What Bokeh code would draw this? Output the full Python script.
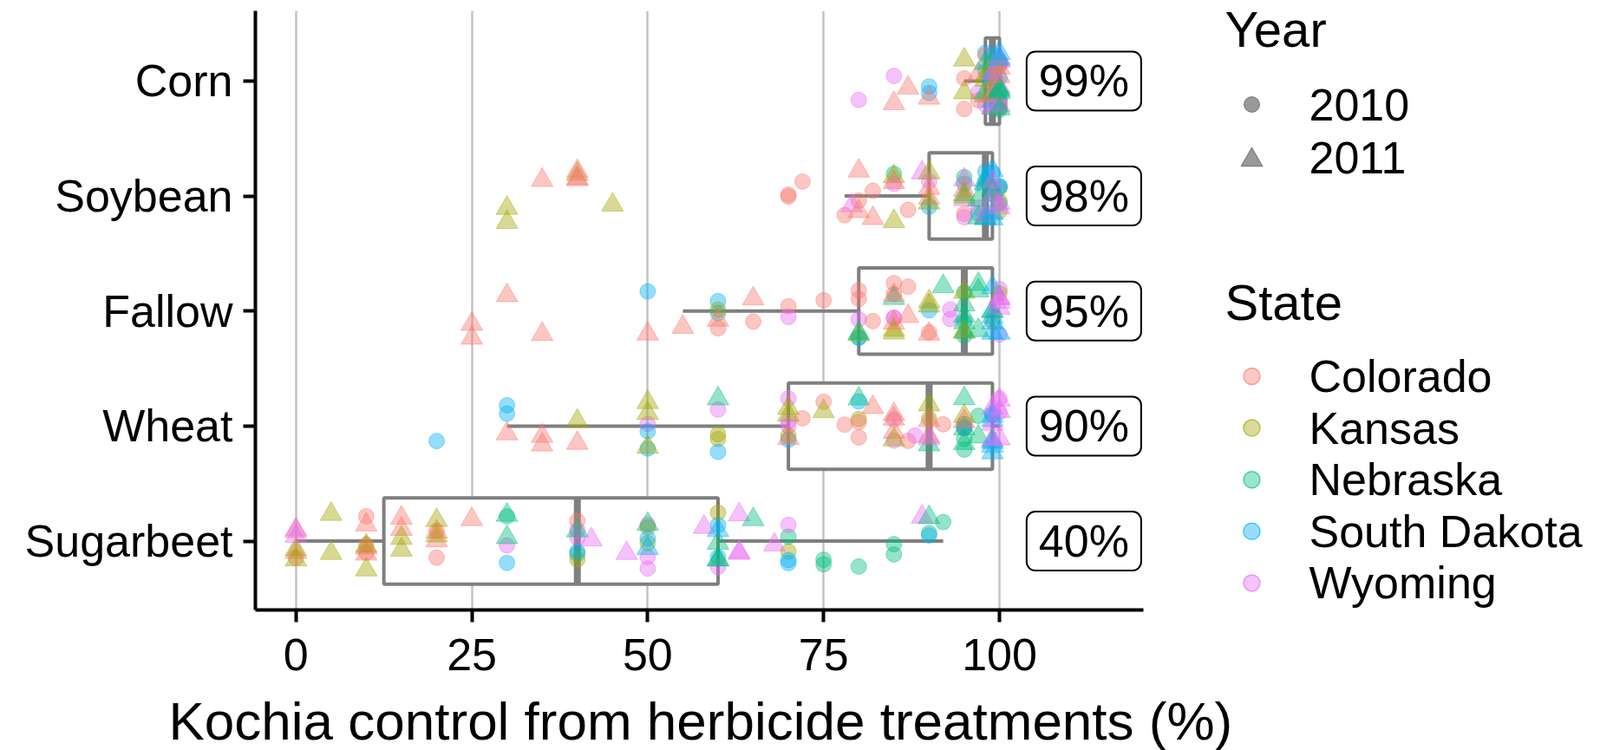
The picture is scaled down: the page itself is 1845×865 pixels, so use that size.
from bokeh.plotting import figure
from bokeh.models import Range1d, ColumnDataSource, FixedTicker, Label, Title
from bokeh.transform import jitter, dodge
from bokeh.embed import file_html
from bokeh.resources import INLINE
from bokeh.core.properties import value

# ---------------- data ----------------
crops = ["Corn", "Soybean", "Fallow", "Wheat", "Sugarbeet"]
states = ["Colorado", "Kansas", "Nebraska", "South Dakota", "Wyoming"]
state_codes = ["CO", "KS", "NE", "SD", "WY"]
state_colors = ["#F8766D", "#A3A500", "#00BF7D", "#00B0F6", "#E76BF3"]
years = ["2010", "2011"]

# boxplot statistics per crop
box_low = [95, 78, 55, 30, 0]
box_q1 = [98, 90, 80, 70, 12.5]
box_median = [99, 98, 95, 90, 40]
box_q3 = [100, 99, 99, 99, 60]
box_high = [100, 100, 100, 100, 92]
median_labels = ["99%", "98%", "95%", "90%", "40%"]

x_ticks = [0, 25, 50, 75, 100]

# observations: (control %, state, year, number of observations)
corn_obs = [
    (80, "WY", 2010, 1), (85, "WY", 2010, 1), (85, "CO", 2011, 1), (87, "CO", 2011, 1),
    (90, "SD", 2010, 2), (90, "CO", 2011, 1), (95, "KS", 2011, 2), (95, "CO", 2010, 2),
    (97, "CO", 2010, 1), (97, "WY", 2010, 1), (97, "CO", 2011, 1),
    (98, "KS", 2011, 3), (98, "NE", 2011, 2), (98, "SD", 2010, 2), (98, "WY", 2010, 1), (98, "CO", 2010, 1),
    (99, "NE", 2011, 4), (99, "SD", 2011, 3), (99, "KS", 2011, 2), (99, "CO", 2011, 2), (99, "WY", 2011, 2),
    (99, "SD", 2010, 2),
    (100, "WY", 2011, 4), (100, "CO", 2010, 3), (100, "NE", 2011, 4), (100, "SD", 2010, 3), (100, "WY", 2010, 3),
    (100, "KS", 2010, 2), (100, "CO", 2011, 2), (100, "SD", 2011, 2), (100, "NE", 2010, 2),
]
soybean_obs = [
    (30, "KS", 2011, 2), (35, "CO", 2011, 1), (40, "KS", 2011, 1), (40, "CO", 2011, 3), (45, "KS", 2011, 1),
    (70, "CO", 2010, 2), (72, "CO", 2010, 1), (78, "CO", 2010, 1), (79, "WY", 2011, 1),
    (80, "CO", 2010, 1), (80, "CO", 2011, 2), (82, "CO", 2010, 1), (82, "CO", 2011, 1),
    (85, "KS", 2011, 2), (85, "NE", 2010, 1), (85, "WY", 2010, 1), (85, "CO", 2011, 1), (87, "CO", 2010, 1),
    (89, "WY", 2011, 1),
    (90, "CO", 2011, 2), (90, "SD", 2010, 1), (90, "KS", 2011, 2), (90, "WY", 2010, 1),
    (95, "NE", 2010, 2), (95, "WY", 2011, 2), (95, "NE", 2011, 1), (95, "CO", 2010, 1), (95, "WY", 2010, 1),
    (95, "CO", 2011, 1), (95, "KS", 2011, 1),
    (97, "NE", 2011, 2), (97, "SD", 2010, 1), (97, "WY", 2010, 1),
    (98, "SD", 2011, 3), (98, "NE", 2011, 2), (98, "SD", 2010, 2), (98, "WY", 2011, 1),
    (99, "SD", 2010, 3), (99, "SD", 2011, 3), (99, "NE", 2011, 2), (99, "WY", 2011, 2),
    (100, "KS", 2010, 3), (100, "SD", 2010, 2), (100, "WY", 2011, 2), (100, "NE", 2010, 1),
]
fallow_obs = [
    (25, "CO", 2011, 2), (30, "CO", 2011, 1), (35, "CO", 2011, 1), (50, "SD", 2010, 1), (50, "CO", 2011, 1),
    (55, "CO", 2011, 1),
    (60, "SD", 2010, 2), (60, "CO", 2011, 1), (60, "CO", 2010, 1), (60, "KS", 2010, 1),
    (65, "CO", 2010, 1), (65, "CO", 2011, 1), (70, "CO", 2010, 1), (70, "WY", 2010, 1), (75, "CO", 2010, 1),
    (80, "WY", 2010, 1), (80, "KS", 2011, 1), (80, "NE", 2011, 1), (80, "CO", 2010, 2), (80, "NE", 2010, 1),
    (80, "SD", 2010, 1), (82, "CO", 2010, 1),
    (85, "KS", 2011, 2), (85, "NE", 2011, 1), (85, "CO", 2011, 2), (85, "WY", 2010, 2), (85, "CO", 2010, 2),
    (87, "CO", 2010, 1), (87, "CO", 2011, 1),
    (90, "KS", 2011, 2), (90, "SD", 2010, 1), (90, "CO", 2011, 1), (90, "CO", 2010, 1),
    (92, "NE", 2011, 1), (93, "WY", 2010, 2),
    (95, "NE", 2011, 4), (95, "NE", 2010, 2), (95, "KS", 2011, 2), (95, "SD", 2010, 1),
    (97, "NE", 2011, 3),
    (99, "SD", 2011, 5), (99, "NE", 2011, 1), (99, "KS", 2010, 1),
    (100, "WY", 2011, 4), (100, "WY", 2010, 2), (100, "KS", 2010, 1), (100, "SD", 2011, 1),
]
wheat_obs = [
    (20, "SD", 2010, 1), (30, "SD", 2010, 2), (30, "CO", 2011, 1), (35, "CO", 2011, 2), (40, "CO", 2011, 1),
    (40, "KS", 2011, 1),
    (50, "WY", 2010, 1), (50, "KS", 2011, 3), (50, "SD", 2010, 2),
    (60, "KS", 2010, 2), (60, "NE", 2011, 1), (60, "SD", 2010, 1), (60, "WY", 2010, 1),
    (70, "WY", 2010, 3), (70, "SD", 2010, 1), (70, "KS", 2010, 1), (70, "KS", 2011, 2), (70, "CO", 2011, 1),
    (72, "CO", 2010, 1),
    (75, "KS", 2011, 1), (75, "CO", 2010, 1), (78, "CO", 2010, 1),
    (80, "NE", 2011, 1), (80, "SD", 2010, 1), (80, "KS", 2010, 1), (80, "CO", 2010, 2), (82, "CO", 2011, 1),
    (85, "CO", 2011, 3), (85, "WY", 2010, 2), (85, "KS", 2011, 1), (87, "CO", 2010, 1), (88, "WY", 2010, 1),
    (90, "NE", 2011, 1), (90, "KS", 2010, 1), (90, "CO", 2011, 2), (90, "WY", 2011, 1), (90, "KS", 2011, 1),
    (92, "CO", 2010, 1),
    (95, "KS", 2011, 1), (95, "NE", 2010, 4), (95, "WY", 2010, 1), (95, "NE", 2011, 3), (95, "SD", 2010, 1),
    (95, "CO", 2011, 1),
    (97, "NE", 2010, 1), (97, "NE", 2011, 1),
    (99, "SD", 2011, 6), (99, "WY", 2011, 3), (99, "SD", 2010, 2),
    (100, "WY", 2011, 3), (100, "WY", 2010, 2),
]
sugarbeet_obs = [
    (0, "CO", 2011, 2), (0, "KS", 2011, 2), (0, "WY", 2011, 2), (0, "CO", 2010, 1),
    (5, "KS", 2011, 2),
    (10, "CO", 2011, 3), (10, "CO", 2010, 3), (10, "KS", 2011, 2),
    (15, "CO", 2011, 2), (15, "KS", 2011, 2),
    (20, "CO", 2010, 2), (20, "CO", 2011, 2), (20, "KS", 2011, 2),
    (25, "CO", 2011, 1),
    (30, "SD", 2010, 1), (30, "NE", 2010, 1), (30, "NE", 2011, 2), (30, "WY", 2010, 1),
    (40, "NE", 2010, 1), (40, "KS", 2010, 1), (40, "WY", 2010, 2), (40, "CO", 2010, 1), (40, "SD", 2010, 1),
    (40, "NE", 2011, 1),
    (42, "WY", 2011, 1), (47, "WY", 2011, 1),
    (50, "WY", 2010, 3), (50, "KS", 2010, 2), (50, "NE", 2011, 1), (50, "SD", 2010, 1), (50, "SD", 2011, 1),
    (58, "WY", 2011, 1),
    (60, "NE", 2011, 3), (60, "SD", 2010, 2), (60, "WY", 2010, 1), (60, "KS", 2010, 1), (60, "SD", 2011, 1),
    (63, "WY", 2011, 3), (65, "NE", 2011, 1), (68, "WY", 2011, 1),
    (70, "KS", 2010, 1), (70, "NE", 2010, 1), (70, "WY", 2010, 1), (70, "SD", 2010, 2),
    (75, "NE", 2010, 2), (80, "NE", 2010, 1), (85, "NE", 2010, 2), (89, "WY", 2011, 1),
    (90, "NE", 2011, 1), (90, "NE", 2010, 1), (90, "SD", 2010, 1), (92, "NE", 2010, 1),
]
crop_obs = [corn_obs, soybean_obs, fallow_obs, wheat_obs, sugarbeet_obs]

# ---------------- layout constants ----------------
FONT = "Liberation Sans"
W, H = 1845, 865
FRAME_L, FRAME_T, FRAME_B = 294, 12, 703
X0, X1 = -5.76, 120.46          # visible panel of the chart
Y0, Y1 = 0.401, 5.61
PX_PER_X = (1318 - FRAME_L) / (X1 - X0)
X_END = X0 + (W - FRAME_L) / PX_PER_X       # frame extends under the legend area
PX_PER_Y = (FRAME_B - FRAME_T) / (Y1 - Y0)


def lx(px):   # legend placement: pixel -> x
    return X0 + (px - FRAME_L) / PX_PER_X


def ly(py):   # legend placement: pixel -> y
    return Y1 - (py - FRAME_T) / PX_PER_Y


# ---------------- build sources ----------------
crop_pos = {c: len(crops) - i for i, c in enumerate(crops)}   # Corn on top
code_color = dict(zip(state_codes, state_colors))

pts = {y: dict(x=[], yc=[], color=[]) for y in years}
for crop, obs in zip(crops, crop_obs):
    for val, st, yr, n in obs:
        for _ in range(n):
            d = pts[str(yr)]
            d["x"].append(val)
            d["yc"].append(crop_pos[crop])
            d["color"].append(code_color[st])

box_src = ColumnDataSource(dict(
    yc=[crop_pos[c] for c in crops], low=box_low, q1=box_q1, med=box_median,
    q3=box_q3, high=box_high, lab=median_labels))

# ---------------- main plot ----------------
p = figure(width=W, height=H, x_range=Range1d(X0, X_END), y_range=Range1d(Y0, Y1),
           output_backend="svg", toolbar_location=None,
           min_border_left=FRAME_L, min_border_right=0, min_border_top=FRAME_T,
           min_border_bottom=H - FRAME_B)
p.outline_line_color = None
p.background_fill_color = "white"
p.border_fill_color = "white"

p.xgrid.ticker = FixedTicker(ticks=x_ticks)
p.xgrid.grid_line_color = "#C4C4C4"
p.xgrid.grid_line_width = 2.5
p.ygrid.visible = False

p.xaxis.ticker = FixedTicker(ticks=x_ticks)
p.xaxis.bounds = (X0, X1)
p.yaxis.ticker = FixedTicker(ticks=[crop_pos[c] for c in crops])
p.yaxis.major_label_overrides = {crop_pos[c]: c for c in crops}
for ax in (p.xaxis, p.yaxis):
    ax.axis_line_width = 4
    ax.axis_line_color = "black"
    ax.major_tick_line_width = 4
    ax.major_tick_line_color = "black"
    ax.major_tick_out = 14
    ax.major_tick_in = 0
    ax.minor_tick_out = 0
    ax.minor_tick_in = 0
    ax.major_label_text_font = FONT
    ax.major_label_text_font_size = "52px"
    ax.major_label_text_color = "black"
p.xaxis.major_label_standoff = 19
p.yaxis.major_label_standoff = 12

# x-axis title, centred under the panel (not under the legend area);
# an empty title above it only adds vertical space
p.add_layout(Title(text=" ", text_font_size="16px", standoff=0), "below")
TITLE_TEXT = "Kochia control from herbicide treatments (%)"
p.add_layout(Title(text=TITLE_TEXT, align="left", offset=-100, text_font=FONT,
                   text_font_size="62px", text_font_style="normal", text_color="black",
                   standoff=0), "below")

GREY = "#7F7F7F"
# whiskers
p.segment(x0="low", x1="q1", y0="yc", y1="yc", source=box_src, line_color=GREY, line_width=4)
p.segment(x0="q3", x1="high", y0="yc", y1="yc", source=box_src, line_color=GREY, line_width=4)
# boxes
p.hbar(y="yc", left="q1", right="q3", height=0.75, source=box_src, fill_color="white",
       line_color=GREY, line_width=4)
# medians
p.segment(x0="med", x1="med", y0=dodge("yc", -0.375), y1=dodge("yc", 0.375), source=box_src,
          line_color=GREY, line_width=8)

# points
src10 = ColumnDataSource(pts["2010"])
src11 = ColumnDataSource(pts["2011"])
p.scatter(x="x", y=jitter("yc", width=0.5), source=src10, marker="circle", size=18,
          fill_color="color", line_color="color", fill_alpha=0.42, line_alpha=0.42, line_width=1)
p.scatter(x="x", y=jitter("yc", width=0.5), source=src11, marker="triangle", size=25,
          fill_color="color", line_color="color", fill_alpha=0.42, line_alpha=0.42, line_width=1)

# median labels
p.text(x=112, y="yc", text="lab", source=box_src, text_align="center", text_baseline="middle",
       text_font=value(FONT), text_font_size="52px", text_color="black",
       background_fill_color="white", border_line_color="black", border_line_width=2,
       border_radius=10, padding=[14, 5])

# ---------------- legend (right of the panel) ----------------
title_px, marker_px, text_px = 1412, 1443, 1509
title_mid = [33, 348]
year_mid = [120, 181]
state_mid = [433.5 + 59.6 * i for i in range(len(states))]

for t, m in zip(["Year", "State"], title_mid):
    p.add_layout(Label(x=lx(title_px), y=ly(m), text=t, text_font=FONT, text_font_size="58px",
                       text_baseline="middle", text_color="black"))
for t, m in zip(years + states, year_mid + state_mid):
    p.add_layout(Label(x=lx(text_px), y=ly(m), text=t, text_font=FONT, text_font_size="52px",
                       text_baseline="middle", text_color="black"))

p.scatter(x=[lx(marker_px)], y=[ly(year_mid[0])], marker="circle", size=18,
          fill_color="black", line_color="black", fill_alpha=0.4, line_alpha=0.4)
p.scatter(x=[lx(marker_px)], y=[ly(year_mid[1] + 3)], marker="triangle", size=25,
          fill_color="black", line_color="black", fill_alpha=0.4, line_alpha=0.4)
p.scatter(x=[lx(marker_px)] * len(states), y=[ly(m) for m in state_mid], marker="circle",
          size=19, fill_color=state_colors, line_color=state_colors, fill_alpha=0.4,
          line_alpha=0.65, line_width=1.5)

open("out.html", "w").write(file_html(p, INLINE))
